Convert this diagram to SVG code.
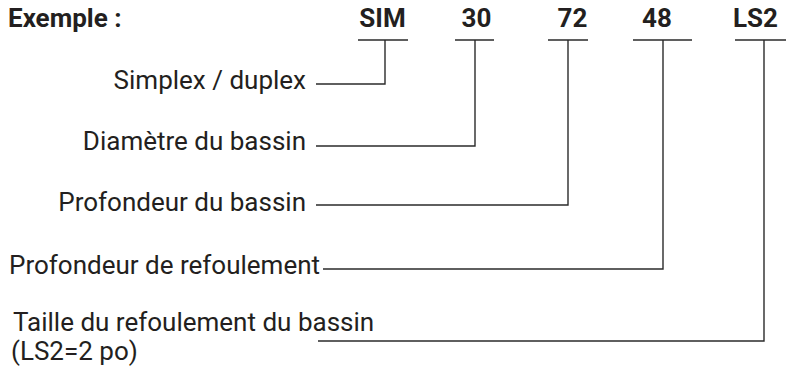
<svg xmlns="http://www.w3.org/2000/svg" width="786" height="373" viewBox="0 0 786 373">
<style>
.t{font-family:Roboto,"Liberation Sans",sans-serif;font-size:26px;fill:#231f20}
.b{font-family:Roboto,"Liberation Sans",sans-serif;font-size:26px;font-weight:bold;fill:#231f20}
.c{fill:none;stroke:#2b2b2b;stroke-width:1.4}
</style>
<rect width="786" height="373" fill="#fff"/>
<g id="header">
<text class="b" x="8" y="27">Exemple :</text>
</g>
<g id="code-sim"><text class="b" x="382.5" y="27" text-anchor="middle">SIM</text></g>
<g id="code-30"><text class="b" x="476.5" y="27" text-anchor="middle">30</text></g>
<g id="code-72"><text class="b" x="572.5" y="27" text-anchor="middle">72</text></g>
<g id="code-48"><text class="b" x="657" y="27" text-anchor="middle">48</text></g>
<g id="code-ls2"><text class="b" x="755.5" y="27" text-anchor="middle">LS2</text></g>
<g id="label-simplex"><text class="t" x="306" y="89" text-anchor="end">Simplex / duplex</text></g>
<g id="label-diametre"><text class="t" x="306" y="150" text-anchor="end">Diamètre du bassin</text></g>
<g id="label-profondeur"><text class="t" x="306" y="211" text-anchor="end">Profondeur du bassin</text></g>
<g id="label-refoulement"><text class="t" x="9" y="274">Profondeur de refoulement</text></g>
<g id="label-taille"><text class="t" x="13" y="331">Taille du refoulement du bassin</text><text class="t" x="11" y="360">(LS2=2 po)</text></g>
<g id="connectors">
<path class="c" d="M358 40H408M385 40V84H316"/>
<path class="c" d="M455 40H494M475 40V146H316"/>
<path class="c" d="M548 40H588M568 40V205H316"/>
<path class="c" d="M633 40H692M663 40V269H323"/>
<path class="c" d="M735 40H786M764 40V341H318"/>
</g>
</svg>
